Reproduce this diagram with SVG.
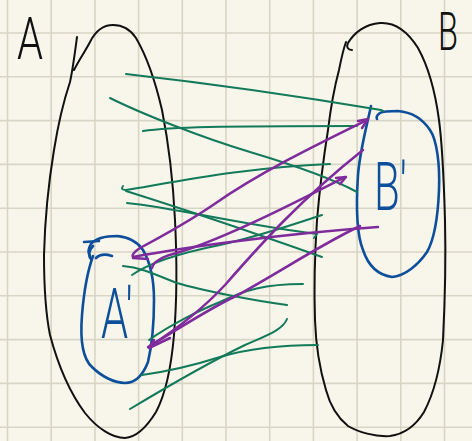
<svg xmlns="http://www.w3.org/2000/svg" width="472" height="441" viewBox="0 0 472 441">
<style>
.grid{stroke:#d8d5c5;stroke-width:1.6}
.ink{fill:none;stroke-linecap:round;stroke-linejoin:round}
.blk{stroke:#111;stroke-width:2}
.blu{stroke:#0d4f9a;stroke-width:2.6}
.grn{stroke:#127a5a;stroke-width:2}
.pur{stroke:#7f2b9b;stroke-width:2.5}
.lbl{font-family:Roboto,Lato,Inter,"DejaVu Sans",sans-serif;font-weight:300}
</style>
<rect width="472" height="441" fill="#f8f6eb"/>
<g id="grid" class="grid">
<path d="M7.5,0V441M51.2,0V441M94.9,0V441M138.6,0V441M182.3,0V441M226,0V441M269.7,0V441M313.4,0V441M357.1,0V441M400.8,0V441M444.5,0V441"/>
<path d="M0,33H472M0,76.8H472M0,120.6H472M0,164.4H472M0,208.2H472M0,252H472M0,295.8H472M0,339.6H472M0,383.4H472M0,427.2H472"/>
</g>
<g id="node-A">
<path class="ink blk" d="M74,70 C80,58 86,50 90,42 C96,30 104,25 113,25 C122,25 130,29 136,38 C146,55 155,80 162,110 C169,145 173,180 175,220 C177,260 177,300 174,335 C171,370 165,395 156,412 C148,425 138,437 125,438 C112,438 97,428 85,413 C70,393 58,365 50,335 C45,310 44,285 44,255 C45,215 49,180 54,150 C58,125 64,100 70,82 C73,68 75,52 77,37"/>
<text class="lbl" x="17" y="59" font-size="60" textLength="26" lengthAdjust="spacingAndGlyphs" fill="#111">A</text>
</g>
<g id="node-B">
<path class="ink blk" d="M352,50 C348,50 346,47 348,43 C354,33 365,24 380,23 C395,22 408,32 418,48 C428,66 435,90 439,120 C443,150 444,185 445,220 C446,260 445,300 443,340 C440,370 433,395 424,412 C416,425 405,434 390,436 C375,437 358,432 348,426 C338,418 330,405 326,390 C320,370 316,350 315,320 C314,290 315,250 317,220 C320,185 324,155 328,130 C331,105 335,85 339,70 C341,60 343,50 346,42"/>
<text class="lbl" x="438" y="50" font-size="53" textLength="20" lengthAdjust="spacingAndGlyphs" fill="#111">B</text>
</g>
<g id="node-B1">
<path class="ink blu" d="M371,106 C367,125 360,150 358,175 C356,205 357,235 363,250 C368,265 378,275 392,277 C405,276 418,265 427,252 C435,238 438,215 439,190 C440,165 437,140 430,130 C422,118 410,112 398,111 C390,111 383,111 380,113 C377,115 376,117 377,119"/>
<text class="lbl" x="374" y="210" font-size="66" textLength="33" lengthAdjust="spacingAndGlyphs" fill="#0d4f9a">B'</text>
</g>
<g id="node-A1">
<path class="ink blu" d="M93,256 C88,270 84,290 82,315 C80,340 82,358 92,367 C102,377 115,383 125,383 C135,383 143,375 148,362 C152,345 154,320 154,300 C154,280 150,262 143,250 C137,241 128,237 117,236 C105,236 96,238 91,244 C88,249 88,253 90,256"/>
<path class="ink blu" d="M84,242 L99,241 M93,246 C89,250 88,256 91,259 M96,258 C100,254 106,254 112,256"/>
<text class="lbl" x="101" y="338" font-size="70" textLength="32" lengthAdjust="spacingAndGlyphs" fill="#0d4f9a">A'</text>
</g>
<g id="connectors" class="ink">
<g class="grn">
<path d="M126,74 Q250,88 381,110 L383,111"/>
<path d="M110,98 C140,113 200,137 250,152 C300,167 335,180 357,192"/>
<path d="M143,131 C170,127 220,126 357,126"/>
<path d="M123,186 Q120,190 126,190 C180,181 250,167 330,164"/>
<path d="M126,191 C180,208 260,235 322,257"/>
<path d="M127,203 C170,207 250,226 317,234 L314,238"/>
<path d="M132,275 C142,268 165,256 220,245 C260,236 295,224 322,215"/>
<path d="M123,266 C145,268 160,277 177,283 C200,290 250,300 287,305"/>
<path d="M149,340 C170,325 200,310 220,302 C245,290 265,284 303,284"/>
<path d="M142,375 C170,371 195,365 220,357 C250,348 285,345 318,345"/>
<path d="M130,409 C170,385 210,362 245,345 C265,336 283,330 287,319"/>
</g>
<g class="pur">
<path d="M367,120 C320,143 260,172 213,205 C185,224 155,240 140,248 Q131,254 133,257 C180,248 280,234 378,227"/>
<path d="M133,258 L148,259"/>
<path d="M358,121 L368,119 L362,128"/>
<path d="M152,268 C153,262 160,257 180,252 C230,236 300,200 345,177"/>
<path d="M336,178 L346,177 L340,184"/>
<path d="M150,346 C175,330 200,312 225,285 C260,245 300,200 363,150"/>
<path d="M148,347 C180,328 210,308 236,296 C280,272 320,245 360,226"/>
<path d="M154,340 L149,348 L170,338"/>
</g>
</g>
</svg>
